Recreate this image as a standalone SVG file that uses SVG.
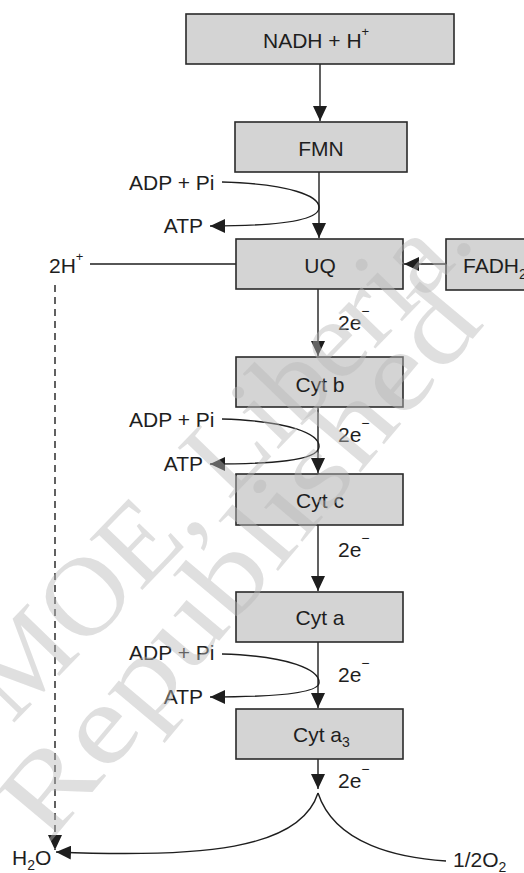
<svg xmlns="http://www.w3.org/2000/svg" width="524" height="873" viewBox="0 0 524 873">
<style>
.box{fill:#d4d4d4;stroke:#2a2a2a;stroke-width:1.6}
.t{font-family:"Liberation Sans",Arial,sans-serif;font-size:21px;fill:#1e1e1e}
.ln{fill:none;stroke:#1e1e1e;stroke-width:1.4}
.wm{font-family:"Liberation Serif","Times New Roman",serif;font-size:112px;fill:#b8b8b8;fill-opacity:0.45}
</style>
<defs>
<marker id="arr" markerUnits="userSpaceOnUse" markerWidth="15" markerHeight="14" refX="15" refY="7" orient="auto" viewBox="0 0 15 14">
<path d="M0,0 L15,7 L0,14 z" fill="#1e1e1e"/>
</marker>
</defs>
<rect width="524" height="873" fill="#fff"/>
<g id="connectors">
<line class="ln" x1="320" y1="64" x2="320" y2="121" marker-end="url(#arr)"/>
<line class="ln" x1="319" y1="172" x2="319" y2="238" marker-end="url(#arr)"/>
<path class="ln" d="M222,182 C290,184 320,196 319,208 C318,222 270,226 210,226" marker-end="url(#arr)"/>
<line class="ln" x1="90" y1="264" x2="236" y2="264"/>
<line class="ln" x1="446" y1="264" x2="404" y2="264" marker-end="url(#arr)"/>
<line class="ln" x1="318" y1="289" x2="318" y2="356" marker-end="url(#arr)"/>
<path class="ln" d="M222,419 C290,421 320,434 319,447 C318,461 270,464 210,464" marker-end="url(#arr)"/>
<line class="ln" x1="318" y1="407" x2="318" y2="473" marker-end="url(#arr)"/>
<line class="ln" x1="318" y1="525" x2="318" y2="591" marker-end="url(#arr)"/>
<path class="ln" d="M222,654 C290,656 320,670 319,683 C318,694 270,697 210,697" marker-end="url(#arr)"/>
<line class="ln" x1="318" y1="642" x2="318" y2="708" marker-end="url(#arr)"/>
<line class="ln" x1="318" y1="759" x2="318" y2="789" marker-end="url(#arr)"/>
<path class="ln" d="M318,793 C300,850 200,858 56,852" marker-end="url(#arr)"/>
<path class="ln" d="M318,793 C335,845 400,858 446,861"/>
<line class="ln" x1="55" y1="285" x2="55" y2="850" stroke-dasharray="7,5" marker-end="url(#arr)"/>
</g>
<g id="nadh"><rect class="box" x="186" y="14" width="268" height="50"/><text class="t" x="263" y="48">NADH + H<tspan font-size="13" dy="-12">+</tspan></text></g>
<g id="fmn"><rect class="box" x="235" y="122" width="172" height="50"/><text class="t" x="321" y="156" text-anchor="middle">FMN</text></g>
<g id="adp1"><text class="t" x="129" y="190">ADP + Pi</text><text class="t" x="203" y="233" text-anchor="end">ATP</text></g>
<g id="uq"><rect class="box" x="236" y="239" width="167" height="50"/><text class="t" x="320" y="273" text-anchor="middle">UQ</text></g>
<g id="h2plus"><text class="t" x="49" y="273">2H<tspan font-size="13" dy="-12">+</tspan></text></g>
<g id="fadh2"><rect class="box" x="446" y="239" width="90" height="51"/><text class="t" x="463" y="273">FADH<tspan font-size="14" dy="6">2</tspan></text></g>
<g id="e1"><text class="t" x="338" y="330">2e<tspan font-size="14" dy="-14">−</tspan></text></g>
<g id="cytb"><rect class="box" x="236" y="357" width="167" height="50"/><text class="t" x="320" y="392" text-anchor="middle">Cyt b</text></g>
<g id="adp2"><text class="t" x="129" y="427">ADP + Pi</text><text class="t" x="203" y="471" text-anchor="end">ATP</text></g>
<g id="e2"><text class="t" x="338" y="442">2e<tspan font-size="14" dy="-14">−</tspan></text></g>
<g id="cytc"><rect class="box" x="236" y="474" width="167" height="51"/><text class="t" x="320" y="508" text-anchor="middle">Cyt c</text></g>
<g id="e3"><text class="t" x="338" y="557">2e<tspan font-size="14" dy="-14">−</tspan></text></g>
<g id="cyta"><rect class="box" x="236" y="592" width="167" height="50"/><text class="t" x="320" y="625" text-anchor="middle">Cyt a</text></g>
<g id="adp3"><text class="t" x="129" y="660">ADP + Pi</text><text class="t" x="203" y="704" text-anchor="end">ATP</text></g>
<g id="e4"><text class="t" x="338" y="682">2e<tspan font-size="14" dy="-14">−</tspan></text></g>
<g id="cyta3"><rect class="box" x="236" y="709" width="167" height="50"/><text class="t" x="293" y="742">Cyt a<tspan font-size="14" dy="5">3</tspan></text></g>
<g id="e5"><text class="t" x="338" y="788">2e<tspan font-size="14" dy="-14">−</tspan></text></g>
<g id="h2o"><text class="t" x="12" y="865">H<tspan font-size="14" dy="5">2</tspan><tspan dy="-5">O</tspan></text></g>
<g id="o2"><text class="t" x="453" y="867">1/2O<tspan font-size="14" dy="5">2</tspan></text></g>
<g id="watermark">
<text class="wm" transform="translate(12,725) rotate(-46)" textLength="670" lengthAdjust="spacingAndGlyphs">MOE, Liberia.</text>
<text class="wm" transform="translate(48,845) rotate(-50)" textLength="680" lengthAdjust="spacingAndGlyphs">Republished</text>
</g>
</svg>
